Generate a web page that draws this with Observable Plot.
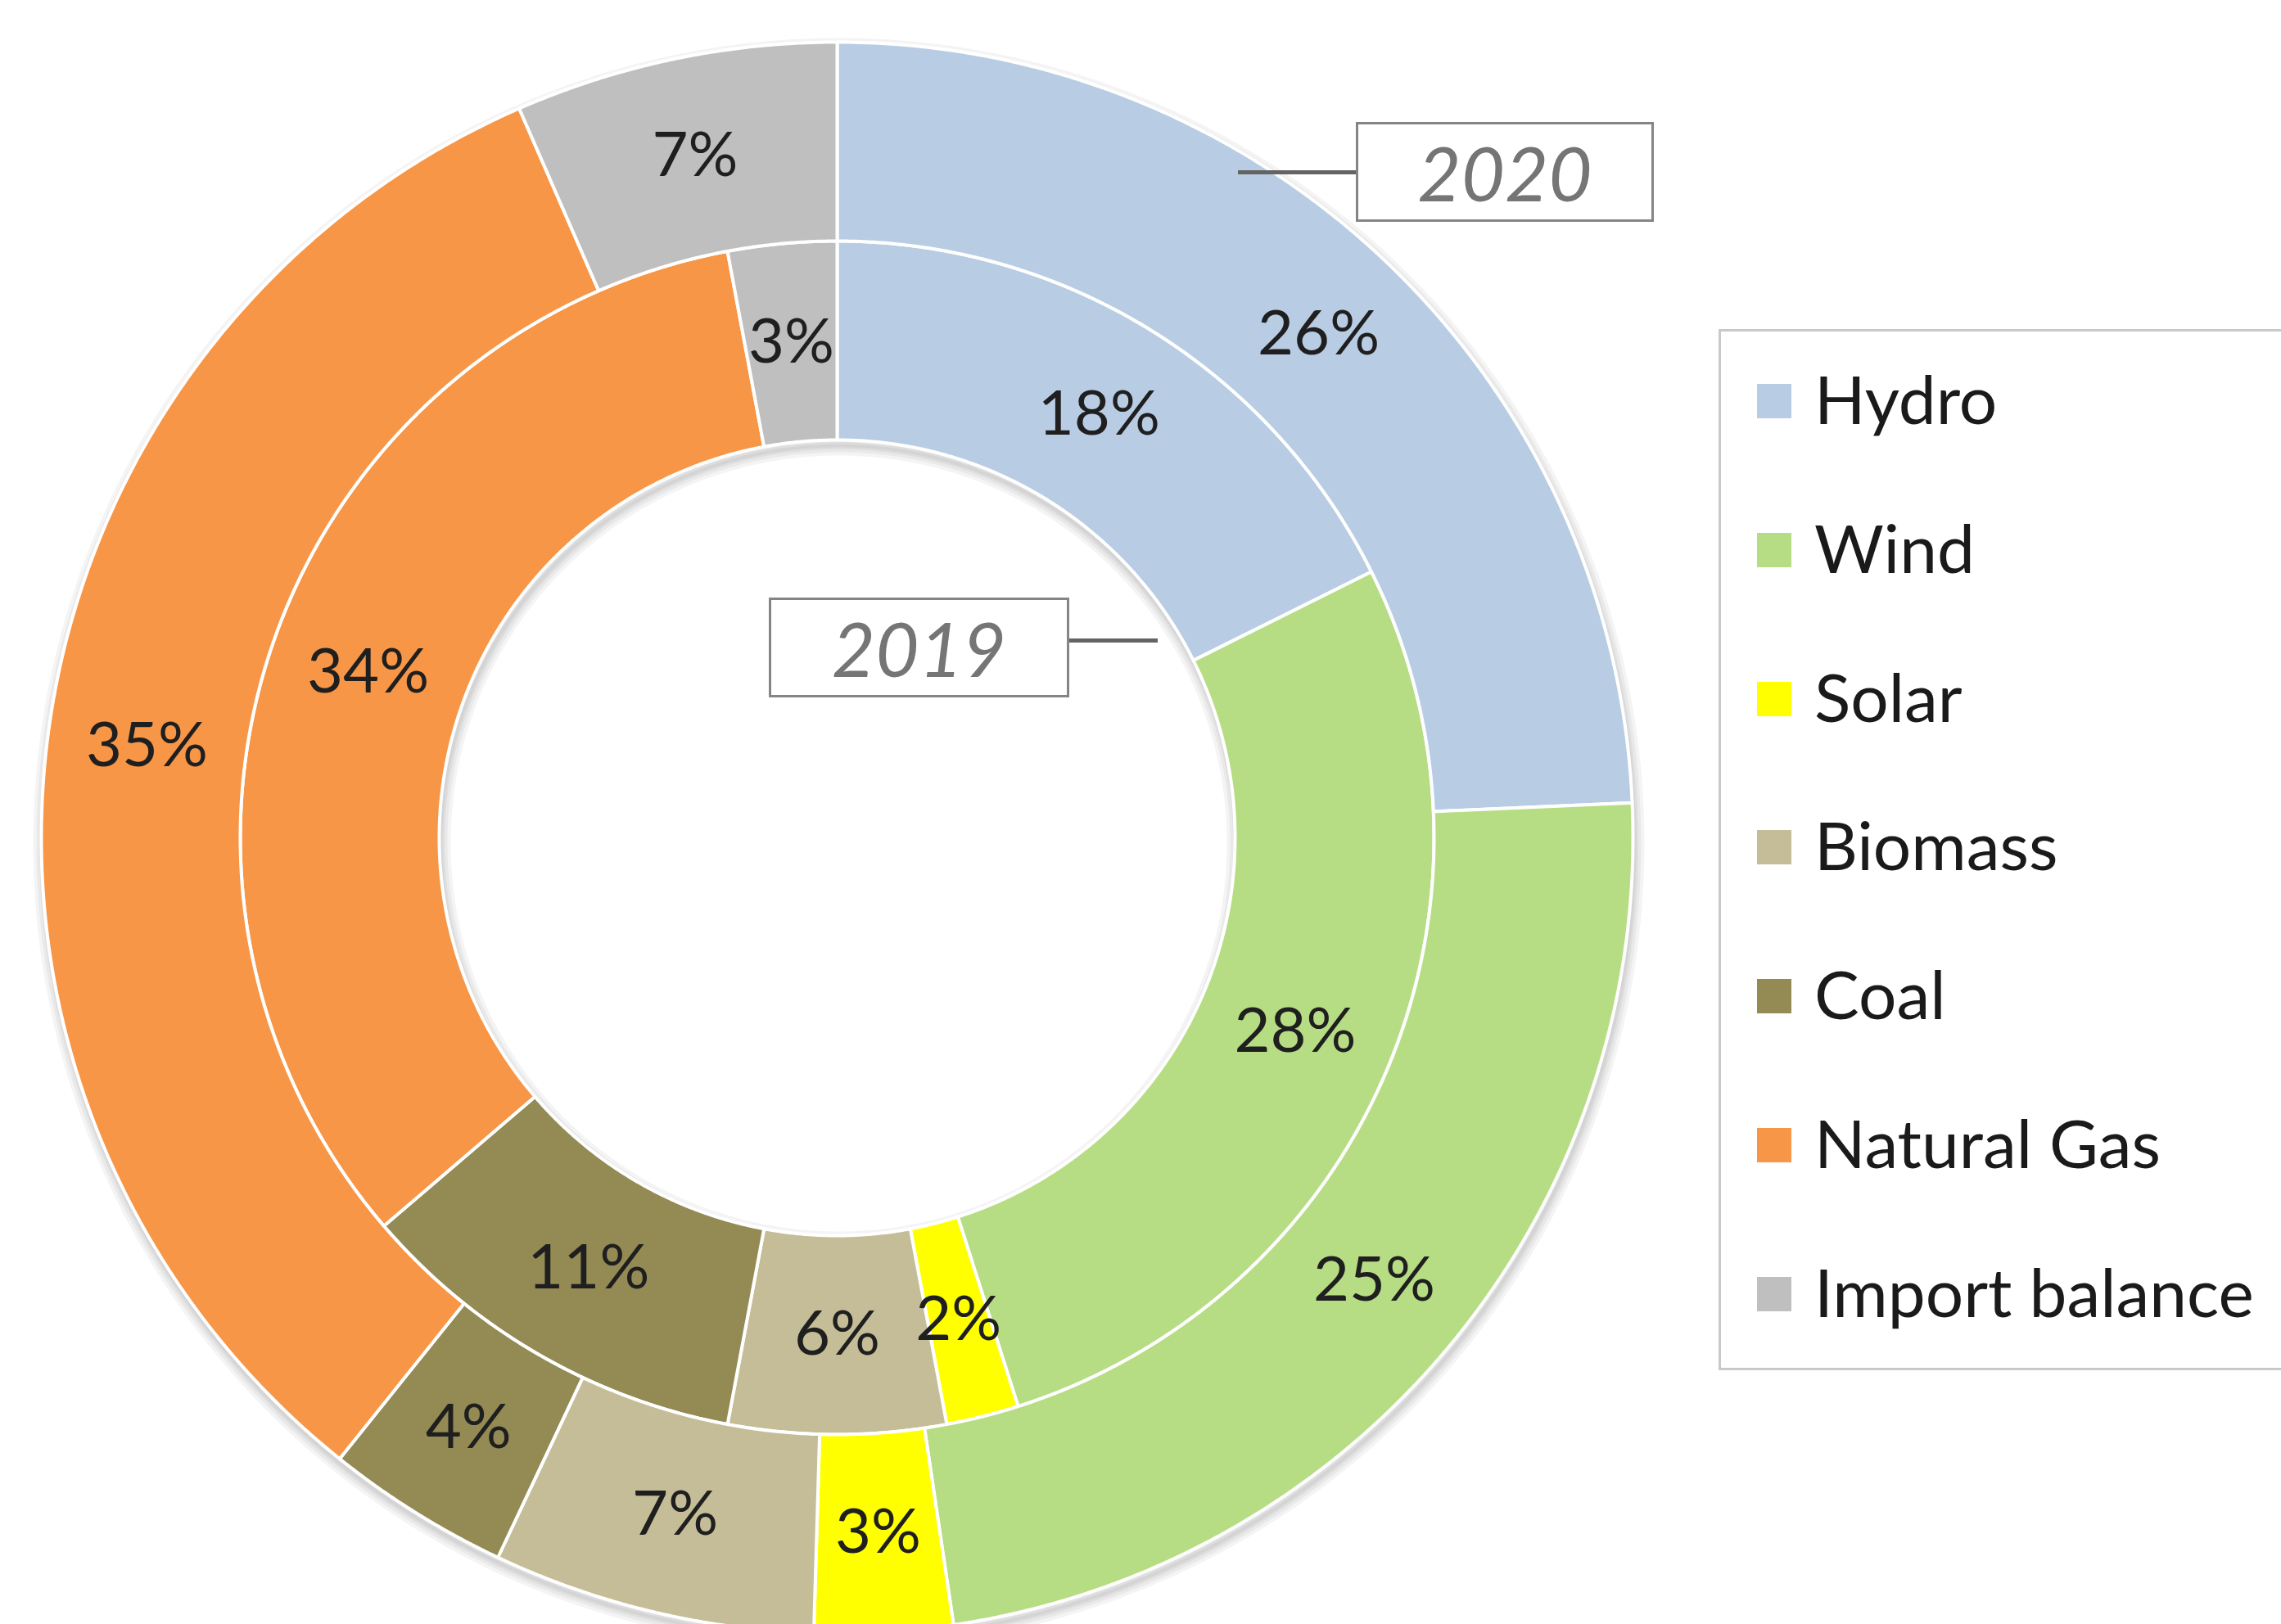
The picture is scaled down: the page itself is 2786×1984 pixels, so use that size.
<!DOCTYPE html>
<html>
<head>
<meta charset="utf-8">
<script src="https://cdn.jsdelivr.net/npm/d3@7"></script>
<script src="https://cdn.jsdelivr.net/npm/@observablehq/plot@0.6"></script>
<style>
  html, body { margin: 0; padding: 0; background: #fff; }
  #wrap { position: relative; width: 2786px; height: 1984px; overflow: hidden; font-family: Lato, "Open Sans", sans-serif; }
  #chart { position: absolute; left: 0; top: 0; }
  .legend-box { position: absolute; left: 2099px; top: 402px; width: 760px; height: 1272px; border: 3px solid #c9c9c9; box-sizing: border-box; background: #fff; }
  .swatch { position: absolute; width: 42px; height: 42px; }
  .legend-text { position: absolute; font-size: 82px; color: #1a1a1a; line-height: 1; white-space: nowrap; }
  .callout { position: absolute; border: 3px solid #858585; background: #fff; color: #757575; font-style: italic; font-size: 92px; display: flex; align-items: center; justify-content: center; box-sizing: border-box; }
  .leader { position: absolute; height: 5px; background: #646464; }
</style>
</head>
<body>
<div id="wrap"><div id="chart"></div></div>
<script>
// ---- data ----
const sources = ["Hydro", "Wind", "Solar", "Biomass", "Coal", "Natural Gas", "Import balance"];
const colors = ["#B8CCE4", "#B6DD84", "#FFFF00", "#C4BD97", "#948A54", "#F79646", "#BFBFBF"];
const share2019 = [18, 28, 2, 6, 11, 34, 3];
const share2020 = [26, 25, 3, 7, 4, 35, 7];
const years = ["2019", "2020"];

// ---- layout constants ----
const W = 2786, H = 1984;
const CX = 1022, CY = 1023, R = 972;        // pixel centre and outer radius
const rings = { "2019": [0.5, 0.75], "2020": [0.75, 1.0] };

function ring(values, year) {
  const [r0, r1] = rings[year];
  const arcs = d3.pie().sort(null).value(d => d)(values);
  const pts = [], labels = [];
  arcs.forEach((a, i) => {
    const id = year + "|" + sources[i];
    const n = Math.max(2, Math.ceil((a.endAngle - a.startAngle) / 0.004));
    for (let k = 0; k <= n; k++) {
      const t = a.startAngle + (a.endAngle - a.startAngle) * k / n;
      pts.push({ id, source: sources[i], x: r1 * Math.sin(t), y: r1 * Math.cos(t) });
    }
    for (let k = n; k >= 0; k--) {
      const t = a.startAngle + (a.endAngle - a.startAngle) * k / n;
      pts.push({ id, source: sources[i], x: r0 * Math.sin(t), y: r0 * Math.cos(t) });
    }
    const mid = (a.startAngle + a.endAngle) / 2, rm = (r0 + r1) / 2;
    labels.push({ x: rm * Math.sin(mid), y: rm * Math.cos(mid), text: values[i] + "%" });
  });
  return { pts, labels };
}

const r19 = ring(share2019, "2019");
const r20 = ring(share2020, "2020");
const pts = r19.pts.concat(r20.pts);
const labels = r19.labels.concat(r20.labels);

// soft shadow: outline circles of the doughnut, shifted slightly down-right
const sdx = 2 / R, sdy = -7 / R;
const shadow = [];
[1.0, 0.5].forEach(r => {
  for (let k = 0; k < 720; k++) {
    const t = k / 720 * 2 * Math.PI;
    shadow.push({ id: "c" + r, x: sdx + r * Math.sin(t), y: sdy + r * Math.cos(t) });
  }
});
const shadowMarks = [24, 16, 9, 4].map(w =>
  Plot.line(shadow, { x: "x", y: "y", z: "id", stroke: "#000", strokeOpacity: 0.045, strokeWidth: w, curve: "linear-closed" })
);

const plot = Plot.plot({
  width: W,
  height: H,
  margin: 0,
  x: { domain: [-CX / R, (W - CX) / R], axis: null },
  y: { domain: [-(H - CY) / R, CY / R], axis: null },
  color: { domain: sources, range: colors },
  marks: [
    ...shadowMarks,
    Plot.line(pts, { x: "x", y: "y", z: "id", fill: "source", stroke: "white", strokeWidth: 4, strokeLinejoin: "round", curve: "linear-closed" }),
    Plot.text(labels, { x: "x", y: "y", text: "text", fontSize: 76, fill: "#1f1f1f", fontFamily: "Lato" })
  ]
});
document.getElementById("chart").appendChild(plot);

// ---- legend ----
const wrap = document.getElementById("wrap");
const box = document.createElement("div");
box.className = "legend-box";
wrap.appendChild(box);
sources.forEach((s, i) => {
  const cy = 490 + i * 181.8;
  const sw = document.createElement("div");
  sw.className = "swatch";
  sw.style.left = "2146px";
  sw.style.top = (cy - 21) + "px";
  sw.style.background = colors[i];
  wrap.appendChild(sw);
  const t = document.createElement("div");
  t.className = "legend-text";
  t.style.left = "2216px";
  t.style.top = (cy - 45) + "px";
  t.textContent = s;
  wrap.appendChild(t);
});

// ---- year callouts ----
const callouts = [
  { year: years[1], left: 1656, top: 149, w: 364, h: 122, lx1: 1512, lx2: 1656, ly: 210 },
  { year: years[0], left: 939, top: 730, w: 367, h: 122, lx1: 1306, lx2: 1414, ly: 782 }
];
callouts.forEach(c => {
  const l = document.createElement("div");
  l.className = "leader";
  l.style.left = c.lx1 + "px";
  l.style.width = (c.lx2 - c.lx1) + "px";
  l.style.top = (c.ly - 2) + "px";
  wrap.appendChild(l);
  const b = document.createElement("div");
  b.className = "callout";
  b.style.left = c.left + "px";
  b.style.top = c.top + "px";
  b.style.width = c.w + "px";
  b.style.height = c.h + "px";
  b.textContent = c.year;
  wrap.appendChild(b);
});
</script>
</body>
</html>
